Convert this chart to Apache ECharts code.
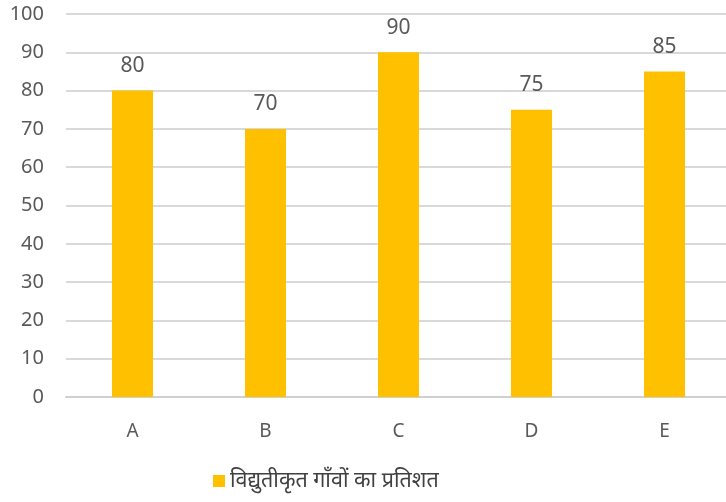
<!DOCTYPE html>
<html>
<head>
<meta charset="utf-8">
<script src="https://cdn.jsdelivr.net/npm/echarts@6/dist/echarts.min.js"></script>
<style>
  html, body { margin: 0; padding: 0; background: #fff; }
  #chart { width: 726px; height: 502px; }
</style>
</head>
<body>
<div id="chart"></div>
<script>
// 数据
const categories = ['A', 'B', 'C', 'D', 'E']
const values = [80, 70, 90, 75, 85]
const seriesName = 'विद्युतीकृत गाँवों का प्रतिशत'

const chart = echarts.init(document.getElementById('chart'))

const option = {
  animation: false,
  textStyle: { fontFamily: '"Noto Sans", "Noto Sans Devanagari", sans-serif' },
  grid: {
    left: 66,
    width: 665,
    top: 14,
    bottom: 105,
    outerBoundsMode: 'none'
  },
  legend: {
    bottom: 5,
    left: 208,
    itemWidth: 12,
    itemHeight: 12,
    itemGap: 8,
    icon: 'rect',
    textStyle: { color: '#404040', fontSize: 21.5 },
    data: [seriesName]
  },
  xAxis: {
    type: 'category',
    data: categories,
    axisTick: { show: false },
    axisLine: { lineStyle: { color: '#d0d0d0', width: 2 } },
    axisLabel: { color: '#595959', fontSize: 19, margin: 25 }
  },
  yAxis: {
    type: 'value',
    min: 0,
    max: 100,
    interval: 10,
    axisLine: { show: false },
    axisTick: { show: false },
    splitLine: { lineStyle: { color: '#d9d9d9', width: 2 } },
    axisLabel: { color: '#595959', fontSize: 20, margin: 22 }
  },
  series: [
    {
      name: seriesName,
      type: 'bar',
      data: values,
      barWidth: 41,
      itemStyle: { color: '#FFC000' },
      label: {
        show: true,
        position: 'top',
        distance: 14,
        color: '#595959',
        fontSize: 21
      }
    }
  ]
}
chart.setOption(option)
</script>
</body>
</html>
